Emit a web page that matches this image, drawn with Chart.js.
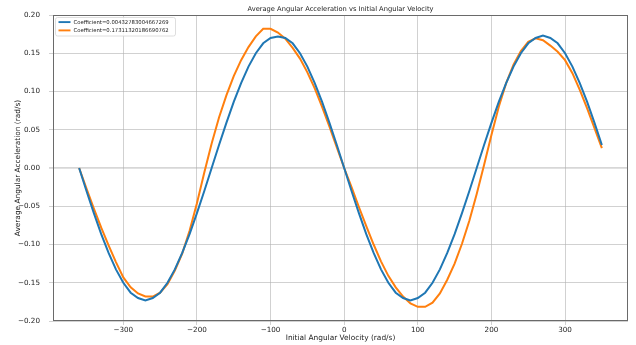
<!DOCTYPE html>
<html>
<head>
<meta charset="utf-8">
<script src="https://cdn.jsdelivr.net/npm/chart.js@4.4.1/dist/chart.umd.min.js"></script>
<style>
  html, body { margin: 0; padding: 0; background: #ffffff; }
  #wrap { width: 636px; height: 345px; position: relative; }
</style>
</head>
<body>
<div id="wrap"><canvas id="c" width="636" height="345"></canvas></div>
<script>
// ---- data ----
const velocities = [-360,-350,-340,-330,-320,-310,-300,-290,-280,-270,-260,-250,-240,-230,-220,-210,-200,-190,-180,-170,-160,-150,-140,-130,-120,-110,-100,-90,-80,-70,-60,-50,-40,-30,-20,-10,0,10,20,30,40,50,60,70,80,90,100,110,120,130,140,150,160,170,180,190,200,210,220,230,240,250,260,270,280,290,300,310,320,330,340,350];

const coefBlueLabel = "Coefficient=0.00432783004667269";
const coefOrangeLabel = "Coefficient=0.17311320186690762";

const accelBlue = [0,-0.030,-0.059,-0.0865,-0.111,-0.1325,-0.150,-0.163,-0.170,-0.173,-0.170,-0.163,-0.150,-0.1325,-0.111,-0.0865,-0.059,-0.030,0,0.030,0.059,0.0865,0.111,0.1325,0.150,0.163,0.170,0.172,0.170,0.163,0.150,0.1325,0.111,0.0865,0.059,0.030,0,-0.030,-0.059,-0.0865,-0.111,-0.1325,-0.150,-0.163,-0.170,-0.173,-0.170,-0.163,-0.150,-0.1325,-0.111,-0.0865,-0.059,-0.030,0,0.030,0.059,0.0865,0.111,0.1325,0.150,0.163,0.170,0.173,0.170,0.163,0.150,0.1325,0.111,0.0865,0.059,0.030];

const accelOrange = [0,-0.027,-0.053,-0.078,-0.101,-0.123,-0.143,-0.156,-0.164,-0.168,-0.168,-0.163,-0.152,-0.134,-0.112,-0.082,-0.046,-0.006,0.032,0.066,0.095,0.120,0.141,0.158,0.172,0.182,0.182,0.177,0.169,0.157,0.143,0.125,0.104,0.080,0.054,0.027,0,-0.025,-0.051,-0.076,-0.100,-0.122,-0.141,-0.156,-0.168,-0.177,-0.1815,-0.1815,-0.176,-0.164,-0.146,-0.125,-0.099,-0.069,-0.034,0.004,0.043,0.080,0.111,0.135,0.153,0.165,0.1695,0.167,0.160,0.152,0.141,0.124,0.102,0.078,0.052,0.026];

const xTicks = [-300,-200,-100,0,100,200,300];
const yTicks = [-0.20,-0.15,-0.10,-0.05,0.00,0.05,0.10,0.15,0.20];

const titleText = "Average Angular Acceleration vs Initial Angular Velocity";
const xTitle = "Initial Angular Velocity (rad/s)";
const yTitle = "Average Angular Acceleration (rad/s)";

// ---- build ----
const toPts = (ys) => velocities.map((v, i) => ({ x: v, y: ys[i] }));
const minus = (s) => String(s).replace(/-/g, "\u2212");
const FONT = "'DejaVu Sans', sans-serif";

const frameTitleLegend = {
  id: "frameTitleLegend",
  afterDatasetsDraw(chart) {
    const ctx = chart.ctx;
    const a = chart.chartArea;
    ctx.save();
    // spines
    ctx.strokeStyle = "#6a6a6a";
    ctx.lineWidth = 1;
    ctx.strokeRect(Math.round(a.left) + 0.5, Math.round(a.top) + 0.5,
                   Math.round(a.right - a.left) - 1, Math.round(a.bottom - a.top) - 1);
    // title, centred over the plot area
    ctx.fillStyle = "#222";
    ctx.font = "6.7px " + FONT;
    ctx.textAlign = "center";
    ctx.textBaseline = "middle";
    ctx.fillText(chart.options.plugins.title.text, (a.left + a.right) / 2, a.top - 5.6);
    // legend box
    const lx = a.left + 2.5, ly = a.top + 2.5, lw = 120, lh = 18.5, r = 2;
    ctx.beginPath();
    ctx.moveTo(lx + r, ly);
    ctx.lineTo(lx + lw - r, ly); ctx.quadraticCurveTo(lx + lw, ly, lx + lw, ly + r);
    ctx.lineTo(lx + lw, ly + lh - r); ctx.quadraticCurveTo(lx + lw, ly + lh, lx + lw - r, ly + lh);
    ctx.lineTo(lx + r, ly + lh); ctx.quadraticCurveTo(lx, ly + lh, lx, ly + lh - r);
    ctx.lineTo(lx, ly + r); ctx.quadraticCurveTo(lx, ly, lx + r, ly);
    ctx.closePath();
    ctx.fillStyle = "rgba(255,255,255,0.85)";
    ctx.fill();
    ctx.strokeStyle = "#d6d6d6";
    ctx.lineWidth = 0.8;
    ctx.stroke();
    chart.data.datasets.forEach((ds, i) => {
      const yy = ly + 4.6 + i * 8.3;
      ctx.strokeStyle = ds.borderColor;
      ctx.lineWidth = 1.9;
      ctx.beginPath();
      ctx.moveTo(lx + 3, yy);
      ctx.lineTo(lx + 15, yy);
      ctx.stroke();
      ctx.fillStyle = "#222";
      ctx.font = "5.3px " + FONT;
      ctx.textBaseline = "middle";
      ctx.textAlign = "left";
      ctx.fillText(ds.label, lx + 18, yy + 0.3);
    });
    ctx.restore();
  }
};

new Chart(document.getElementById("c"), {
  type: "line",
  data: {
    datasets: [
      { label: coefBlueLabel, data: toPts(accelBlue), borderColor: "#1f77b4", backgroundColor: "#1f77b4",
        borderWidth: 2, pointRadius: 0, tension: 0, fill: false },
      { label: coefOrangeLabel, data: toPts(accelOrange), borderColor: "#ff7f0e", backgroundColor: "#ff7f0e",
        borderWidth: 2, pointRadius: 0, tension: 0, fill: false }
    ]
  },
  options: {
    responsive: false,
    animation: false,
    events: [],
    layout: { padding: { left: 0, right: 8, top: 15, bottom: 0 } },
    plugins: {
      legend: { display: false },
      tooltip: { enabled: false },
      title: { display: false, text: titleText }
    },
    scales: {
      x: {
        type: "linear", min: -395.5, max: 385.5,
        afterBuildTicks: (s) => { s.ticks = xTicks.map(v => ({ value: v })); },
        afterFit: (s) => { s.height = 24; },
        ticks: { color: "#222", font: { family: FONT, size: 7.2 }, padding: 1, maxRotation: 0,
                 callback: (v) => minus(v) },
        grid: { color: "rgba(176,176,176,0.65)", lineWidth: 0.9, tickLength: 4, drawTicks: true },
        border: { display: false },
        title: { display: true, text: xTitle, color: "#222", font: { family: FONT, size: 7.4 }, padding: { top: 0, bottom: 2 } }
      },
      y: {
        type: "linear", min: -0.2, max: 0.2,
        afterBuildTicks: (s) => { s.ticks = yTicks.map(v => ({ value: v })); },
        afterFit: (s) => { s.width = 53; },
        ticks: { color: "#222", font: { family: FONT, size: 7.2 }, padding: 9,
                 callback: (v) => minus(Number(v).toFixed(2)) },
        grid: {
          color: (c) => (c.tick && Math.abs(c.tick.value) < 1e-9) ? "rgba(176,176,176,0.5)" : "rgba(176,176,176,0.65)",
          lineWidth: (c) => (c.tick && Math.abs(c.tick.value) < 1e-9) ? 1.8 : 0.9,
          tickLength: 4, drawTicks: true
        },
        border: { display: false },
        title: { display: true, text: yTitle, color: "#222", font: { family: FONT, size: 7.4 }, padding: { top: 14, bottom: 0 } }
      }
    }
  },
  plugins: [frameTitleLegend]
});
</script>
</body>
</html>
